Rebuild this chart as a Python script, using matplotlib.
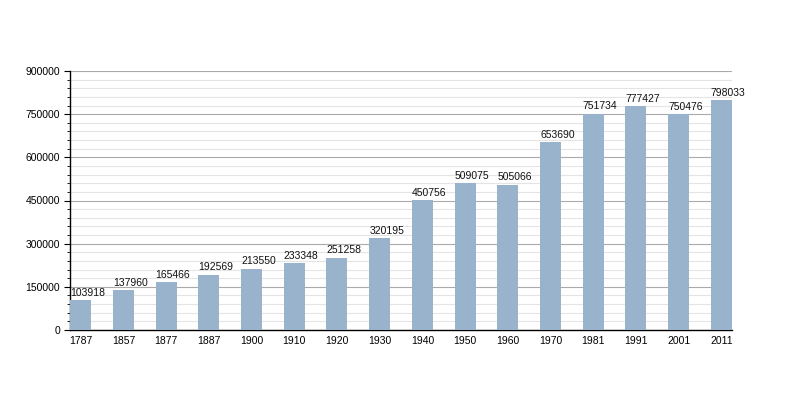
import matplotlib
matplotlib.use("Agg")
import matplotlib.pyplot as plt
from matplotlib.ticker import MultipleLocator

years = ["1787", "1857", "1877", "1887", "1900", "1910", "1920", "1930",
         "1940", "1950", "1960", "1970", "1981", "1991", "2001", "2011"]
population = [103918, 137960, 165466, 192569, 213550, 233348, 251258, 320195,
              450756, 509075, 505066, 653690, 751734, 777427, 750476, 798033]

plt.rcParams["font.family"] = ["Liberation Sans", "DejaVu Sans"]

fig = plt.figure(figsize=(8, 4), dpi=100)
ax = fig.add_axes([0.0875, 0.175, 0.8275, 0.6475])

x = list(range(len(years)))
bar_w = 0.49
ax.bar(x, population, width=bar_w, color="#9ab3cc", zorder=3)

for xi, v in zip(x, population):
    ax.text(xi - bar_w / 2, v + 8000, str(v), ha="left", va="bottom",
            fontsize=7.5, color="#111111", zorder=4)

ax.set_xlim(-0.25, len(years) - 0.75)
ax.set_ylim(0, 900000)
ax.set_xticks(x)
ax.set_xticklabels(years)
ax.yaxis.set_major_locator(MultipleLocator(150000))
ax.yaxis.set_minor_locator(MultipleLocator(30000))

ax.grid(which="major", axis="y", color="#aaaaaa", linewidth=0.8, zorder=1)
ax.grid(which="minor", axis="y", color="#e4e4e4", linewidth=0.8, zorder=0)

for s in ("top", "right"):
    ax.spines[s].set_visible(False)
for s in ("left", "bottom"):
    ax.spines[s].set_color("black")
    ax.spines[s].set_linewidth(1)

ax.tick_params(axis="x", length=0, labelsize=7.5, pad=4)
ax.tick_params(axis="y", which="major", length=4, labelsize=7.5, pad=3)
ax.tick_params(axis="y", which="minor", length=2)

fig.savefig("out.png", dpi=100)
